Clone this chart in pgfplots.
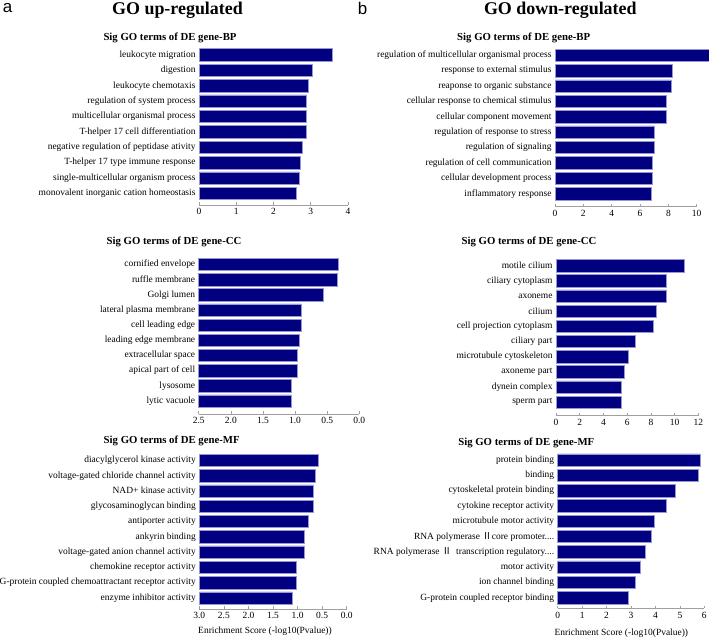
\documentclass[border=0pt]{standalone}
\usepackage{fontspec}
\setmainfont{Liberation Serif}
\newfontfamily\arial{Liberation Sans}
\newfontfamily\cjk{Noto Sans CJK SC}
\usepackage{pgfplots}
\pgfplotsset{compat=1.18}
\newcommand\fourdots{.{}.{}.{}.}
\definecolor{navy}{RGB}{0,0,128}
\definecolor{baredge}{RGB}{150,150,210}
\definecolor{axgray}{RGB}{160,160,160}
\pgfplotsset{
  gobar/.style={
    scale only axis, xbar, clip=false,
    axis x line*=bottom, axis y line*=left,
    y axis line style={draw=none},
    x axis line style={draw=axgray, line width=0.7pt},
    xtick style={draw=axgray, line width=0.6pt},
    tick align=inside, major tick length=2.5bp,
    ytick style={draw=none},
    ymax=9.6, bar width=0.81,
    ytick={0,1,2,3,4,5,6,7,8,9},
    tick label style={font=\fontsize{9.5}{11}\selectfont},
    /pgf/number format/assume math mode=true,
  },
  gofill/.style={fill=navy, draw=baredge, line width=0.6pt},
}
\begin{document}
\begin{tikzpicture}[x=1bp,y=1bp]
\useasboundingbox (0,0) rectangle (709,638);
% ---------- a BP
\begin{axis}[gobar, at={(199bp,433bp)}, anchor=south west,
  width=149bp, height=159.2bp, xmin=0, xmax=4, ymin=-0.747,
  xtick={0,1,2,3,4},
  yticklabels={monovalent inorganic cation homeostasis,single-multicellular organism process,T-helper 17 type immune response,negative regulation of peptidase ativity,T-helper 17 cell differentiation,multicellular organismal process,regulation of system process,leukocyte chemotaxis,digestion,leukocyte migration}]
\addplot[gofill] coordinates {(2.62,0) (2.68,1) (2.71,2) (2.78,3) (2.87,4) (2.89,5) (2.89,6) (2.94,7) (3.03,8) (3.57,9)};
\end{axis}
% ---------- a CC
\begin{axis}[gobar, at={(198.7bp,224bp)}, anchor=south west,
  width=160.6bp, height=158.6bp, xmin=0, xmax=2.5, ymin=-0.857,
  xtick={0,0.5,1,1.5,2,2.5}, xticklabels={2.5,2.0,1.5,1.0,0.5,0.0},
  yticklabels={lytic vacuole,lysosome,apical part of cell,extracellular space,leading edge membrane,cell leading edge,lateral plasma membrane,Golgi lumen,ruffle membrane,cornified envelope}]
\addplot[gofill] coordinates {(1.44,0) (1.44,1) (1.54,2) (1.54,3) (1.56,4) (1.59,5) (1.59,6) (1.94,7) (2.15,8) (2.17,9)};
\end{axis}
% ---------- a MF
\begin{axis}[gobar, at={(199.3bp,29bp)}, anchor=south west,
  width=147.4bp, height=157.7bp, xmin=0, xmax=3, ymin=-0.72,
  xtick={0,0.5,1,1.5,2,2.5,3}, xticklabels={3.0,2.5,2.0,1.5,1.0,0.5,0.0},
  yticklabels={enzyme inhibitor activity,G-protein coupled chemoattractant receptor activity,chemokine receptor activity,voltage-gated anion channel activity,ankyrin binding,antiporter activity,glycosaminoglycan binding,NAD+ kinase activity,voltage-gated chloride channel activity,diacylglycerol kinase activity}]
\addplot[gofill] coordinates {(1.89,0) (1.97,1) (1.97,2) (2.14,3) (2.14,4) (2.22,5) (2.31,6) (2.32,7) (2.37,8) (2.42,9)};
\end{axis}
% ---------- b BP
\begin{axis}[gobar, at={(555bp,431.3bp)}, anchor=south west,
  width=141.7bp, height=160.6bp, xmin=0, xmax=10, ymin=-0.845,
  xtick={0,2,4,6,8,10},
  yticklabels={inflammatory response,cellular development process,regulation of cell communication,regulation of signaling,regulation of response to stress,cellular component movement,cellular response to chemical stimulus,reaponse to organic substance,response to external stimulus,regulation of multicellular organismal process}]
\addplot[gofill] coordinates {(6.76,0) (6.88,1) (6.90,2) (6.98,3) (7.02,4) (7.86,5) (7.86,6) (8.19,7) (8.29,8) (10.86,9)};
\end{axis}
% ---------- b CC
\begin{axis}[gobar, at={(556bp,222.3bp)}, anchor=south west,
  width=142.3bp, height=159.1bp, xmin=0, xmax=12, ymin=-0.89,
  xtick={0,2,4,6,8,10,12},
  yticklabels={sperm part,dynein complex,axoneme part,microtubule cytoskeleton,ciliary part,cell projection cytoplasm,cilium,axoneme,ciliary cytoplasm,motile cilium}]
\addplot[gofill] coordinates {(5.5,0) (5.5,1) (5.76,2) (6.1,3) (6.72,4) (8.2,5) (8.46,6) (9.33,7) (9.33,8) (10.82,9)};
\end{axis}
% ---------- b MF
\begin{axis}[gobar, at={(557.7bp,29.7bp)}, anchor=south west,
  width=146.6bp, height=157.4bp, xmin=0, xmax=6, ymin=-0.69,
  xtick={0,1,2,3,4,5,6},
  yticklabels={G-protein coupled receptor binding,ion channel binding,motor activity,{RNA polymerase {\cjk Ⅱ}\ \ transcription regulatory\fourdots},{RNA polymerase {\cjk Ⅱ}core promoter\fourdots},microtubule motor activity,cytokine receptor activity,cytoskeletal protein binding,binding,protein binding}]
\addplot[gofill] coordinates {(2.87,0) (3.17,1) (3.40,2) (3.58,3) (3.82,4) (3.95,5) (4.44,6) (4.81,7) (5.75,8) (5.82,9)};
\end{axis}
% ---------- titles
\node[font=\bfseries\fontsize{18}{21}\selectfont] at (177.5,627.5) {GO up-regulated};
\node[font=\bfseries\fontsize{18}{21}\selectfont] at (560.3,627.5) {GO down-regulated};
\node[font=\arial\fontsize{17}{19}\selectfont] at (7.7,630) {a};
\node[font=\arial\fontsize{17}{19}\selectfont] at (362.7,630) {b};
\node[font=\bfseries\fontsize{10.8}{12}\selectfont] at (170,600) {Sig GO terms of DE gene-BP};
\node[font=\bfseries\fontsize{10.8}{12}\selectfont] at (523.7,600) {Sig GO terms of DE gene-BP};
\node[font=\bfseries\fontsize{10.8}{12}\selectfont] at (174,396.3) {Sig GO terms of DE gene-CC};
\node[font=\bfseries\fontsize{10.8}{12}\selectfont] at (529,396.3) {Sig GO terms of DE gene-CC};
\node[font=\bfseries\fontsize{10.8}{12}\selectfont] at (171.7,197) {Sig GO terms of DE gene-MF};
\node[font=\bfseries\fontsize{10.8}{12}\selectfont] at (526.3,194.7) {Sig GO terms of DE gene-MF};
\node[font=\fontsize{9.5}{11}\selectfont] at (265,6.3) {Enrichment Score (-log10(Pvalue))};
\node[font=\fontsize{9.5}{11}\selectfont] at (621.3,4.7) {Enrichment Score (-log10(Pvalue))};
\end{tikzpicture}
\end{document}
